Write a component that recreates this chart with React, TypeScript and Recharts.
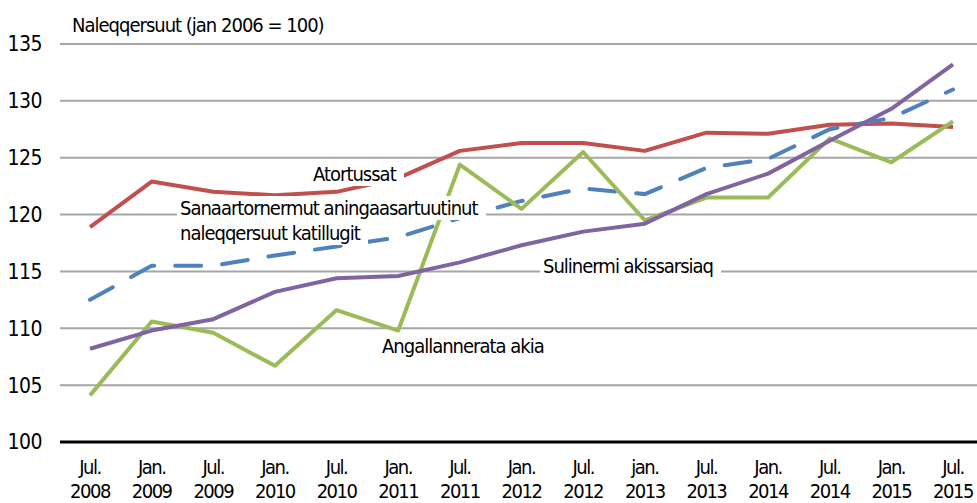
import { LineChart, Line, XAxis, YAxis, CartesianGrid } from 'recharts';

const FONT = '"Liberation Sans Narrow", "DejaVu Sans Condensed", sans-serif';

// categories (half-year points)
const periods = [
  'Jul. 2008', 'Jan. 2009', 'Jul. 2009', 'Jan. 2010', 'Jul. 2010',
  'Jan. 2011', 'Jul. 2011', 'Jan. 2012', 'Jul. 2012', 'jan. 2013',
  'Jul. 2013', 'Jan. 2014', 'Jul. 2014', 'Jan. 2015', 'Jul. 2015',
];

// index values, jan 2006 = 100
const atortussat = [118.9, 122.9, 122.0, 121.7, 122.0, 123.2, 125.6, 126.3, 126.3, 125.6, 127.2, 127.1, 127.9, 128.0, 127.7];
const sanaartornermut = [112.5, 115.5, 115.5, 116.4, 117.2, 118.0, 119.7, 121.2, 122.3, 121.8, 124.1, 124.9, 127.5, 128.5, 131.0];
const angallannerata = [104.1, 110.6, 109.6, 106.7, 111.6, 109.8, 124.4, 120.5, 125.5, 119.5, 121.5, 121.5, 126.7, 124.6, 128.2];
const sulinermi = [108.2, 109.8, 110.8, 113.2, 114.4, 114.6, 115.8, 117.3, 118.5, 119.2, 121.8, 123.6, 126.5, 129.3, 133.2];

const yTicks = [100, 105, 110, 115, 120, 125, 130, 135];

const data = periods.map((p, i) => ({
  period: p,
  atortussat: atortussat[i],
  sanaartornermut: sanaartornermut[i],
  angallannerata: angallannerata[i],
  sulinermi: sulinermi[i],
}));

function PeriodTick({ x, y, payload }: any) {
  const [month, year] = String(payload.value).split(' ');
  return (
    <text x={x} y={y} textAnchor="middle" fill="#000" fontSize={20} fontFamily={FONT} letterSpacing={-1.5}>
      <tspan x={x} dy={24}>{month}</tspan>
      <tspan x={x} dy={24}>{year}</tspan>
    </text>
  );
}

const labelStyle = {
  position: 'absolute' as const,
  background: '#fff',
  lineHeight: '24px',
  fontSize: 20,
  fontFamily: FONT,
  letterSpacing: '-1px',
  color: '#000',
  whiteSpace: 'nowrap' as const,
  padding: '0 8px 0 3px',
};

export default function App() {
  return (
    <div style={{ position: 'absolute', left: 0, top: 0, width: 977, height: 503, background: '#fff' }}>
      <LineChart width={977} height={503} data={data} margin={{ top: 44, right: 0, bottom: 0, left: 0 }}>
        <CartesianGrid vertical={false} stroke="#a6a6a6" strokeWidth={2} />
        <XAxis
          dataKey="period"
          height={61}
          padding={{ left: 30, right: 24 }}
          axisLine={{ stroke: '#000', strokeWidth: 3 }}
          tickLine={false}
          interval={0}
          tick={<PeriodTick />}
        />
        <YAxis
          width={60}
          domain={[100, 135]}
          ticks={yTicks}
          axisLine={false}
          tickLine={false}
          tickMargin={12}
          tick={{ fill: '#000', fontSize: 21, fontFamily: FONT, letterSpacing: -0.5 }}
        />
        <Line type="linear" dataKey="atortussat" stroke="#c0504d" strokeWidth={4} dot={false} isAnimationActive={false} strokeLinejoin="round" />
        <Line type="linear" dataKey="sanaartornermut" stroke="#4f81bd" strokeWidth={4} strokeDasharray="26 21" strokeLinecap="round" dot={false} isAnimationActive={false} />
        <Line type="linear" dataKey="angallannerata" stroke="#9bbb59" strokeWidth={4} dot={false} isAnimationActive={false} strokeLinejoin="round" />
        <Line type="linear" dataKey="sulinermi" stroke="#8064a2" strokeWidth={4} dot={false} isAnimationActive={false} strokeLinejoin="round" />
      </LineChart>
      <div style={{ ...labelStyle, left: 72, top: 13, padding: 0, background: 'transparent' }}>Naleqqersuut (jan 2006 = 100)</div>
      <div style={{ ...labelStyle, left: 310, top: 162 }}>Atortussat</div>
      <div style={{ ...labelStyle, left: 177, top: 196 }}>Sanaartornermut aningaasartuutinut</div>
      <div style={{ ...labelStyle, left: 177, top: 221 }}>naleqqersuut katillugit</div>
      <div style={{ ...labelStyle, left: 540, top: 254 }}>Sulinermi akissarsiaq</div>
      <div style={{ ...labelStyle, left: 379, top: 334 }}>Angallannerata akia</div>
    </div>
  );
}
